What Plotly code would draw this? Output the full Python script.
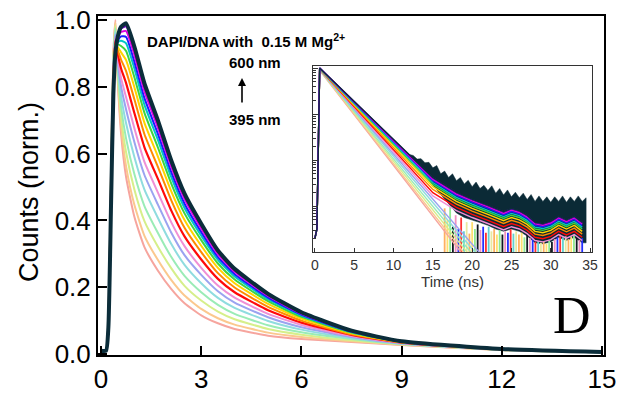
import plotly.graph_objects as go

# ---------------- main panel: normalized decays (395 nm -> 600 nm) ----------------
t_main = [0, 0.15, 0.22, 0.3, 0.37, 0.43, 0.5, 0.6, 0.75, 1.0, 1.3, 1.7, 2.1, 2.5,
          3.0, 3.5, 4.0, 5.0, 6.0, 7.5, 9.0, 12.0, 15.0]

c00 = [0.010, 0.010, 0.100, 0.550, 0.900, 1.000, 0.820, 0.660, 0.530, 0.410, 0.320, 0.250, 0.195, 0.152, 0.116, 0.092, 0.075, 0.055, 0.045, 0.036, 0.027, 0.012, 0.005]
c01 = [0.010, 0.010, 0.099, 0.543, 0.892, 0.993, 0.829, 0.682, 0.562, 0.446, 0.354, 0.282, 0.222, 0.175, 0.135, 0.107, 0.088, 0.064, 0.051, 0.038, 0.028, 0.012, 0.005]
c02 = [0.010, 0.010, 0.097, 0.534, 0.881, 0.984, 0.841, 0.711, 0.604, 0.492, 0.398, 0.322, 0.257, 0.204, 0.160, 0.127, 0.104, 0.075, 0.058, 0.041, 0.029, 0.012, 0.005]
c03 = [0.010, 0.010, 0.095, 0.525, 0.870, 0.975, 0.853, 0.740, 0.645, 0.538, 0.443, 0.363, 0.291, 0.234, 0.185, 0.147, 0.120, 0.086, 0.065, 0.045, 0.030, 0.013, 0.005]
c04 = [0.010, 0.010, 0.093, 0.515, 0.858, 0.965, 0.866, 0.772, 0.691, 0.589, 0.492, 0.408, 0.330, 0.267, 0.212, 0.168, 0.138, 0.099, 0.073, 0.048, 0.031, 0.013, 0.005]
c05 = [0.010, 0.010, 0.091, 0.506, 0.847, 0.956, 0.877, 0.801, 0.732, 0.634, 0.536, 0.448, 0.364, 0.296, 0.237, 0.188, 0.154, 0.110, 0.080, 0.051, 0.032, 0.013, 0.005]
c06 = [0.010, 0.010, 0.090, 0.498, 0.838, 0.948, 0.888, 0.826, 0.769, 0.675, 0.575, 0.484, 0.395, 0.323, 0.258, 0.205, 0.169, 0.120, 0.087, 0.054, 0.033, 0.014, 0.006]
c07 = [0.010, 0.010, 0.088, 0.489, 0.827, 0.939, 0.899, 0.855, 0.811, 0.721, 0.619, 0.525, 0.430, 0.352, 0.283, 0.225, 0.185, 0.131, 0.094, 0.057, 0.034, 0.014, 0.006]
c08 = [0.010, 0.010, 0.086, 0.481, 0.817, 0.931, 0.910, 0.881, 0.847, 0.762, 0.658, 0.561, 0.461, 0.378, 0.305, 0.242, 0.199, 0.141, 0.100, 0.059, 0.035, 0.014, 0.006]
c09 = [0.010, 0.010, 0.085, 0.474, 0.809, 0.924, 0.919, 0.903, 0.880, 0.798, 0.692, 0.592, 0.488, 0.401, 0.324, 0.258, 0.212, 0.150, 0.106, 0.062, 0.035, 0.014, 0.006]
c10 = [0.010, 0.010, 0.084, 0.468, 0.802, 0.918, 0.927, 0.922, 0.907, 0.828, 0.722, 0.619, 0.511, 0.421, 0.341, 0.271, 0.223, 0.158, 0.111, 0.064, 0.036, 0.014, 0.006]
c11 = [0.010, 0.010, 0.083, 0.463, 0.796, 0.913, 0.933, 0.938, 0.930, 0.854, 0.746, 0.642, 0.530, 0.437, 0.354, 0.282, 0.232, 0.164, 0.115, 0.066, 0.037, 0.015, 0.006]
c12 = [0.010, 0.010, 0.082, 0.459, 0.791, 0.909, 0.938, 0.951, 0.949, 0.874, 0.766, 0.660, 0.545, 0.450, 0.365, 0.290, 0.239, 0.169, 0.118, 0.067, 0.037, 0.015, 0.006]
c13 = [0.010, 0.010, 0.081, 0.455, 0.786, 0.905, 0.944, 0.964, 0.967, 0.895, 0.786, 0.678, 0.561, 0.464, 0.376, 0.299, 0.246, 0.174, 0.121, 0.068, 0.037, 0.015, 0.006]
c14 = [0.010, 0.010, 0.080, 0.452, 0.782, 0.902, 0.947, 0.974, 0.981, 0.910, 0.800, 0.691, 0.572, 0.473, 0.385, 0.306, 0.251, 0.178, 0.123, 0.069, 0.038, 0.015, 0.006]
c15 = [0.010, 0.010, 0.080, 0.450, 0.780, 0.900, 0.950, 0.980, 0.990, 0.920, 0.810, 0.700, 0.580, 0.480, 0.390, 0.310, 0.255, 0.180, 0.125, 0.070, 0.038, 0.015, 0.006]
main_curves = [c00, c01, c02, c03, c04, c05, c06, c07, c08, c09, c10, c11, c12, c13, c14, c15]

curve_colors = ["#f6a59e", "#fbc88e", "#d6ef8a", "#9aecb6", "#8fdcdf", "#9aa3f0",
                "#ef8fd6", "#ff0a0a", "#ff8a00", "#ffd400", "#3fd43f", "#00c6c6",
                "#1a1aff", "#e000e0", "#6c00c0", "#0b2d3a"]
curve_widths = [2, 2, 2, 2, 2, 2, 2, 2.2, 2, 2, 2, 2, 2, 2, 2, 4]

main_xticks = [0, 3, 6, 9, 12, 15]
main_yticks = [0.0, 0.2, 0.4, 0.6, 0.8, 1.0]
main_yticklabels = ["0.0", "0.2", "0.4", "0.6", "0.8", "1.0"]

# ---------------- inset: log10 of counts vs time (ns) ----------------
t_inset = [0, 0.25, 0.6, 5, 10, 15, 18, 20, 22, 24, 25, 26, 27, 28, 29, 30, 31, 32, 33, 34]

i00 = [-3.7, -3.5, -0.05, -1.02, -2.12, -3.22, -3.88, -4.32]
i01 = [-3.7, -3.5, -0.05, -1.00, -2.08, -3.16, -3.81, -4.24]
i02 = [-3.7, -3.5, -0.04, -0.97, -2.03, -3.08, -3.72, -4.14]
i03 = [-3.7, -3.5, -0.04, -0.95, -1.98, -3.01, -3.63, -4.04, -4.45]
i04 = [-3.7, -3.5, -0.03, -0.92, -1.92, -2.92, -3.53, -3.93, -4.33]
i05 = [-3.7, -3.5, -0.03, -0.89, -1.87, -2.85, -3.44, -3.83, -4.22]
i06 = [-3.7, -3.5, -0.02, -0.87, -1.82, -2.78, -3.10, -3.25, -3.38, -3.52, -3.45, -3.50, -3.60, -3.75, -3.78, -3.73, -3.62, -3.70, -3.62, -3.75]
i07 = [-3.7, -3.5, -0.02, -0.84, -1.77, -2.71, -3.03, -3.18, -3.31, -3.45, -3.38, -3.43, -3.53, -3.68, -3.71, -3.66, -3.55, -3.63, -3.55, -3.68]
i08 = [-3.7, -3.5, -0.02, -0.82, -1.73, -2.64, -2.96, -3.11, -3.24, -3.38, -3.31, -3.36, -3.46, -3.61, -3.64, -3.59, -3.48, -3.56, -3.48, -3.61]
i09 = [-3.7, -3.5, -0.01, -0.80, -1.69, -2.58, -2.90, -3.05, -3.18, -3.32, -3.25, -3.30, -3.40, -3.55, -3.58, -3.53, -3.42, -3.50, -3.42, -3.55]
i10 = [-3.7, -3.5, -0.01, -0.78, -1.65, -2.53, -2.85, -3.00, -3.13, -3.27, -3.20, -3.25, -3.35, -3.50, -3.53, -3.48, -3.37, -3.45, -3.37, -3.50]
i11 = [-3.7, -3.5, -0.01, -0.76, -1.63, -2.49, -2.81, -2.96, -3.09, -3.23, -3.16, -3.21, -3.31, -3.46, -3.49, -3.44, -3.33, -3.41, -3.33, -3.46]
i12 = [-3.7, -3.5, 0.00, -0.75, -1.60, -2.45, -2.77, -2.92, -3.05, -3.19, -3.12, -3.17, -3.27, -3.42, -3.45, -3.40, -3.29, -3.37, -3.29, -3.42]
i13 = [-3.7, -3.5, 0.00, -0.74, -1.58, -2.42, -2.74, -2.89, -3.02, -3.16, -3.09, -3.14, -3.24, -3.39, -3.42, -3.37, -3.26, -3.34, -3.26, -3.39]
i14 = [-3.7, -3.5, 0.00, -0.73, -1.56, -2.39, -2.71, -2.86, -2.99, -3.13, -3.06, -3.11, -3.21, -3.36, -3.39, -3.34, -3.23, -3.31, -3.23, -3.36]
i15 = [-3.7, -3.5, 0.00, -0.73, -1.55, -2.38, -2.70, -2.85, -2.98, -3.12, -3.05, -3.10, -3.20, -3.35, -3.38, -3.33, -3.22, -3.30, -3.22, -3.35]
inset_log_curves = [i00, i01, i02, i03, i04, i05, i06, i07, i08, i09, i10, i11, i12, i13, i14, i15]

# noise band of the long-wavelength decays (log10 counts)
band_top_t = [12, 12.5, 13, 13.5, 14, 14.5, 15, 15.5, 16, 16.5, 17, 17.5, 18, 18.5, 19, 19.5,
              20, 20.5, 21, 21.5, 22, 22.5, 23, 23.5, 24, 24.5, 25, 25.5, 26, 26.5, 27, 27.5,
              28, 28.5, 29, 29.5, 30, 30.5, 31, 31.5, 32, 32.5, 33, 33.5, 34, 34.5]
band_top = [-1.88, -1.90, -1.98, -1.97, -2.06, -2.05, -2.17, -2.12, -2.30, -2.24, -2.38, -2.30,
            -2.45, -2.38, -2.52, -2.44, -2.58, -2.48, -2.62, -2.55, -2.66, -2.56, -2.72, -2.62,
            -2.76, -2.65, -2.80, -2.70, -2.82, -2.72, -2.86, -2.75, -2.90, -2.78, -2.90, -2.80,
            -2.92, -2.80, -2.90, -2.78, -2.92, -2.80, -2.90, -2.78, -2.90, -2.82]
band_bot_t = [12, 13, 14, 15, 16, 17, 18, 19, 20, 21, 22, 23, 24, 25, 26, 27, 28, 29, 30, 31,
              32, 33, 34, 34.5]
band_bottom = [-1.90, -2.10, -2.30, -2.55, -2.75, -2.95, -3.15, -3.25, -3.30, -3.36, -3.42, -3.50,
               -3.55, -3.50, -3.55, -3.65, -3.80, -3.82, -3.78, -3.68, -3.75, -3.68, -3.80, -3.80]

# noise spikes under the decays (time, log10 top of spike)
spike_t = [16.5, 16.85, 17.2, 17.55, 17.9, 18.25, 18.6, 18.95, 19.3, 19.65, 20.0, 20.35, 20.7,
           21.05, 21.4, 21.75, 22.1, 22.45, 22.8, 23.15, 23.5, 23.85, 24.2, 24.55, 24.9, 25.25,
           25.6, 25.95, 26.3, 26.65, 27.0, 27.35, 27.7, 28.05, 28.4, 28.75, 29.1, 29.45, 29.8,
           30.15, 30.5, 30.85, 31.2, 31.55, 31.9, 32.25, 32.6, 32.95, 33.3, 33.65, 34.0]
spike_top = [-3.05, -3.30, -3.00, -3.45, -3.20, -3.50, -3.25, -3.55, -3.35, -3.60,
             -3.35, -3.50, -3.40, -3.52, -3.45, -3.58, -3.45, -3.55, -3.50, -3.62,
             -3.52, -3.62, -3.55, -3.58, -3.50, -3.60, -3.55, -3.62, -3.58, -3.68,
             -3.62, -3.70, -3.68, -3.78, -3.76, -3.80, -3.78, -3.82, -3.75, -3.78,
             -3.72, -3.68, -3.62, -3.68, -3.66, -3.72, -3.66, -3.62, -3.68, -3.74, -3.70]
spike_colors = ["#ffb060", "#ffe070", "#90e890", "#101820", "#f090c0", "#2030ff", "#ff3030",
                "#60d0d0", "#e8e8a0"]

inset_xticks = [0, 5, 10, 15, 20, 25, 30, 35]

FONT = "Liberation Sans, Arial, sans-serif"

fig = go.Figure()

for vals, col, wd in zip(main_curves, curve_colors, curve_widths):
    fig.add_trace(go.Scatter(x=t_main, y=vals, mode="lines",
                             line=dict(color=col, width=wd, shape="spline", smoothing=0.5),
                             xaxis="x", yaxis="y", hoverinfo="skip", showlegend=False))

band_x = band_top_t + band_bot_t[::-1]
band_y = [10 ** v for v in band_top + band_bottom[::-1]]
fig.add_trace(go.Scatter(x=band_x, y=band_y, mode="lines", fill="toself",
                         fillcolor="#0b2a36", line=dict(color="#0b2a36", width=0.5),
                         xaxis="x2", yaxis="y2", hoverinfo="skip", showlegend=False))

# spikes grouped by colour
for k, col in enumerate(spike_colors):
    xs, ys = [], []
    for j in range(k, len(spike_t), len(spike_colors)):
        xs += [spike_t[j], spike_t[j], None]
        ys += [10 ** spike_top[j], 10 ** -4.2, None]
    fig.add_trace(go.Scatter(x=xs, y=ys, mode="lines", line=dict(color=col, width=1.8),
                             xaxis="x2", yaxis="y2", hoverinfo="skip", showlegend=False))

for vals, col in zip(inset_log_curves, curve_colors):
    fig.add_trace(go.Scatter(x=t_inset[:len(vals)], y=[10 ** v for v in vals], mode="lines",
                             line=dict(color=col, width=1.4),
                             xaxis="x2", yaxis="y2", hoverinfo="skip", showlegend=False))

fig.update_layout(
    width=622, height=398,
    margin=dict(l=0, r=0, t=0, b=0),
    paper_bgcolor="white", plot_bgcolor="white",
    showlegend=False,
    xaxis=dict(domain=[0.1576, 0.9711], range=[-0.09, 15.06], anchor="y",
               tickvals=main_xticks, ticks="inside", ticklen=9, tickwidth=2, tickcolor="black",
               showline=True, linewidth=2, linecolor="black", mirror=True,
               showgrid=False, zeroline=False, automargin=False, ticklabelstandoff=0,
               tickfont=dict(family=FONT, size=26, color="black")),
    yaxis=dict(domain=[0.108, 0.9598], range=[-0.003, 1.012], anchor="x",
               tickvals=main_yticks, ticktext=main_yticklabels,
               ticks="inside", ticklen=9, tickwidth=2, tickcolor="black",
               showline=True, linewidth=2, linecolor="black", mirror=True,
               showgrid=False, zeroline=False, automargin=False,
               tickfont=dict(family=FONT, size=26, color="black")),
    xaxis2=dict(domain=[0.5032, 0.9518], range=[-0.25, 35.25], anchor="y2",
                tickvals=inset_xticks, ticks="inside", ticklen=4, tickwidth=1, tickcolor="#333",
                showline=True, linewidth=1.2, linecolor="#333", mirror=True,
                showgrid=False, zeroline=False, automargin=False,
                tickfont=dict(family=FONT, size=14, color="#333"),
                title=dict(text="Time (ns)", font=dict(family=FONT, size=15, color="#333"), standoff=0)),
    yaxis2=dict(domain=[0.3668, 0.8342], type="log", range=[-4.0, 0.045], anchor="x2",
                dtick=1, ticks="inside", ticklen=5, tickwidth=1, tickcolor="#333",
                showticklabels=False,
                minor=dict(ticks="inside", ticklen=2.5, tickcolor="#333", showgrid=False),
                showline=True, linewidth=1.2, linecolor="#333", mirror=True,
                showgrid=False, zeroline=False, automargin=False),
)

fig.add_annotation(text="Counts (norm.)", x=29 / 622, y=0.5176, xref="paper", yref="paper",
                   xanchor="center", yanchor="middle",
                   textangle=-90, showarrow=False, font=dict(family=FONT, size=27, color="black"))
fig.add_annotation(text="D", x=572 / 622, y=1 - 315 / 398, xref="paper", yref="paper",
                   xanchor="center", yanchor="middle", showarrow=False,
                   font=dict(family="Liberation Serif, Times New Roman, serif", size=52, color="black"))
fig.add_annotation(text="<b>DAPI/DNA with \u00a00.15 M Mg<sup>2+</sup></b>", x=145 / 622, y=1 - 41 / 398,
                   xref="paper", yref="paper", xanchor="left", yanchor="middle", showarrow=False,
                   font=dict(family=FONT, size=15, color="black"))
fig.add_annotation(text="<b>600 nm</b>", x=255 / 622, y=1 - 62 / 398, xref="paper", yref="paper",
                   xanchor="center", yanchor="middle",
                   showarrow=False, font=dict(family=FONT, size=15, color="black"))
fig.add_annotation(text="<b>395 nm</b>", x=255 / 622, y=1 - 119 / 398, xref="paper", yref="paper",
                   xanchor="center", yanchor="middle",
                   showarrow=False, font=dict(family=FONT, size=15, color="black"))
fig.add_annotation(text="", x=242 / 622, y=1 - 78 / 398, xref="paper", yref="paper",
                   showarrow=True, ax=0, ay=26, arrowhead=2, arrowsize=1, arrowwidth=1.6, arrowcolor="black")

fig.write_html("out.html")
